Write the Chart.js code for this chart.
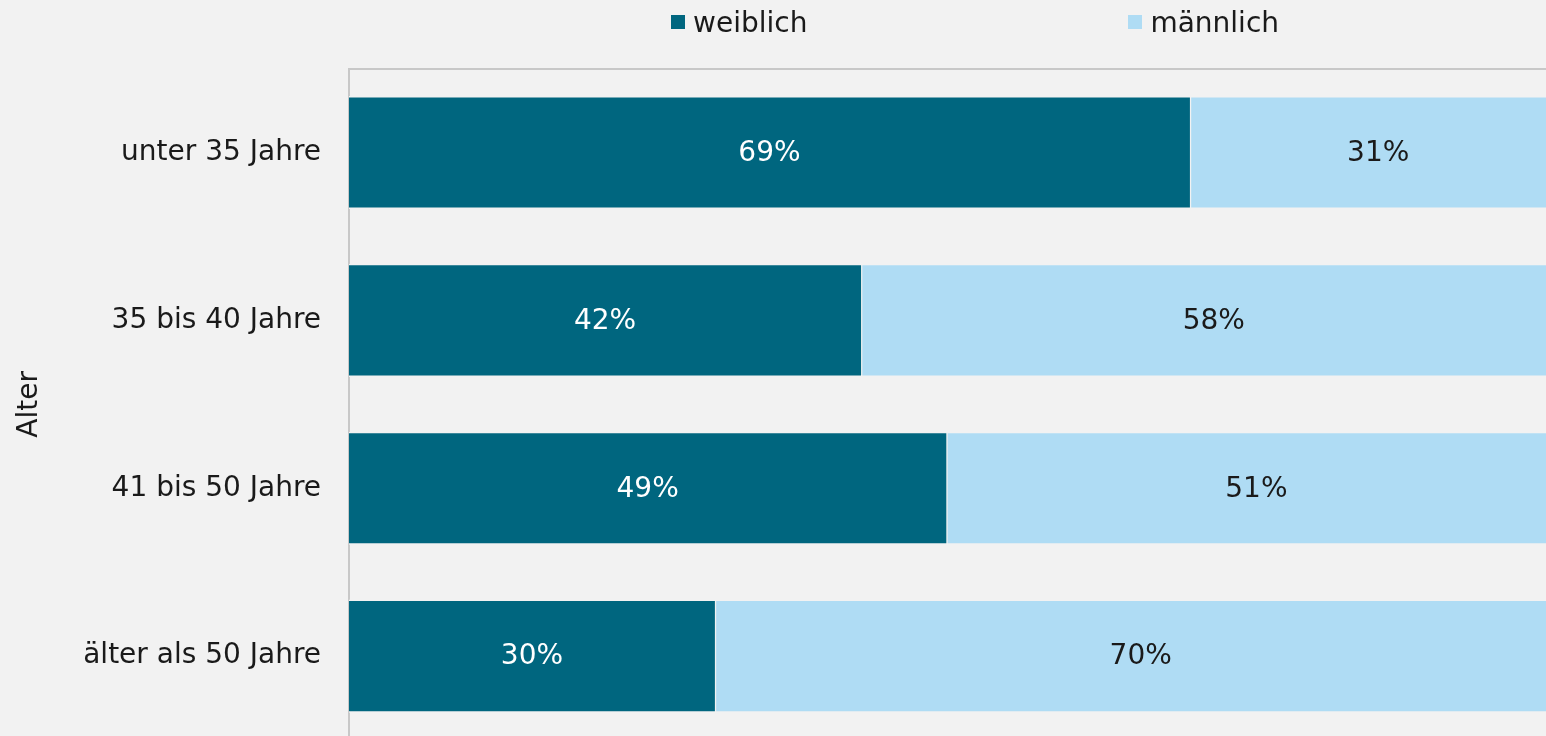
<!DOCTYPE html>
<html>
<head>
<meta charset="utf-8">
<script src="https://cdn.jsdelivr.net/npm/chart.js@4/dist/chart.umd.min.js"></script>
<style>
  html, body { margin: 0; padding: 0; background: #f2f2f2; overflow: hidden; width: 1546px; height: 736px; }
  #wrap { position: relative; width: 1567px; height: 740px; }
  #chart { position: absolute; left: 0; top: 0; width: 1567px; height: 740px; }
  #legend { position: absolute; left: 671px; top: 0; height: 44px; display: flex; align-items: center; gap: 321px;
            font-family: "DejaVu Sans", sans-serif; font-size: 28px; color: #1a1a1a; }
  .item { display: flex; align-items: center; }
  .box { width: 14px; height: 14px; margin-right: 8px; }
</style>
</head>
<body>
<div id="wrap">
  <canvas id="chart" width="1567" height="740"></canvas>
  <div id="legend"></div>
</div>
<script>
const categories = ["unter 35 Jahre", "35 bis 40 Jahre", "41 bis 50 Jahre", "älter als 50 Jahre"];
const seriesNames = ["weiblich", "männlich"];
const weiblich = [69, 42, 49, 30];
const maennlich = [31, 58, 51, 70];
const axisTitle = "Alter";

const colors = ["#00667f", "#afdcf4"];
const labelColors = ["#ffffff", "#1a1a1a"];
const bg = "#f2f2f2";
const fontFamily = '"DejaVu Sans", sans-serif';

const valueLabels = {
  id: 'valueLabels',
  afterDatasetsDraw(chart) {
    const ctx = chart.ctx;
    ctx.save();
    ctx.font = '28px ' + fontFamily;
    ctx.textAlign = 'center';
    ctx.textBaseline = 'middle';
    chart.data.datasets.forEach((ds, di) => {
      const meta = chart.getDatasetMeta(di);
      ctx.fillStyle = labelColors[di];
      meta.data.forEach((el, i) => {
        const p = el.getCenterPoint();
        ctx.fillText(ds.data[i] + '%', p.x, p.y + 1);
      });
    });
    ctx.restore();
  }
};

const chart = new Chart(document.getElementById('chart'), {
  type: 'bar',
  data: {
    labels: categories,
    datasets: [
      { label: seriesNames[0], data: weiblich, backgroundColor: colors[0] },
      { label: seriesNames[1], data: maennlich, backgroundColor: colors[1] }
    ].map(d => Object.assign(d, {
      borderColor: bg, borderWidth: 1.5, borderSkipped: false, inflateAmount: 2,
      categoryPercentage: 1, barPercentage: 0.65
    }))
  },
  options: {
    responsive: false,
    maintainAspectRatio: false,
    animation: false,
    indexAxis: 'y',
    layout: { padding: 0, autoPadding: false },
    plugins: { legend: { display: false }, tooltip: { enabled: false } },
    scales: {
      x: {
        type: 'linear', stacked: true, min: 0, max: 100, position: 'top',
        ticks: { display: false },
        grid: { display: true, drawOnChartArea: false, drawTicks: false },
        border: { display: true, color: '#c8c8c8', width: 2 },
        afterFit(scale) {
          scale.height = 68.6;
          scale.paddingLeft = 0; scale.paddingRight = 0;
        }
      },
      y: {
        stacked: true, position: 'left',
        ticks: { color: '#1a1a1a', padding: 28, font: { family: fontFamily, size: 28 } },
        grid: { display: true, drawOnChartArea: false, drawTicks: false },
        border: { display: true, color: '#c8c8c8', width: 2 },
        title: { display: true, text: axisTitle, color: '#1a1a1a', padding: { top: 13, bottom: 0 },
                 font: { family: fontFamily, size: 28 } },
        afterFit(scale) {
          scale.width = 349;
          scale.paddingTop = 0; scale.paddingBottom = 0;
        }
      }
    }
  },
  plugins: [valueLabels]
});

const legend = document.getElementById('legend');
chart.data.datasets.forEach(ds => {
  const item = document.createElement('div');
  item.className = 'item';
  const box = document.createElement('span');
  box.className = 'box';
  box.style.background = ds.backgroundColor;
  const txt = document.createElement('span');
  txt.textContent = ds.label;
  item.appendChild(box);
  item.appendChild(txt);
  legend.appendChild(item);
});
</script>
</body>
</html>
